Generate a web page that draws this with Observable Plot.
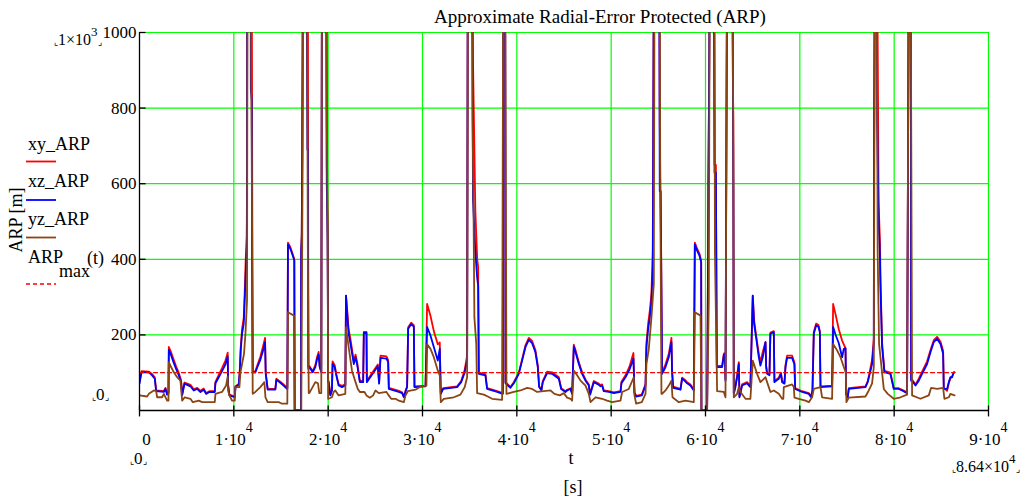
<!DOCTYPE html>
<html><head><meta charset="utf-8">
<script src="https://cdn.jsdelivr.net/npm/d3@7"></script>
<script src="https://cdn.jsdelivr.net/npm/@observablehq/plot@0.6"></script>
<style>
body{margin:0;background:#fff;}
#wrap{position:relative;width:1024px;height:498px;overflow:hidden;font-family:"Liberation Serif","Times New Roman",Times,"DejaVu Serif",serif;}
#wrap svg{position:absolute;left:0;top:0;}
#wrap svg text{font-family:"Liberation Serif","Times New Roman",Times,"DejaVu Serif",serif;}
</style></head><body><div id="wrap"></div>
<script>
// ---- tick definitions ----
const xTicks = [0,10000,20000,30000,40000,50000,60000,70000,80000,90000];
const xTickText = ["0","1·10","2·10","3·10","4·10","5·10","6·10","7·10","8·10","9·10"];
const xTickExp = "4";
const yTicks = [200,400,600,800,1000];
const yGrid = [200,400,600,800,1000];

// ---- series: [t (s), ARP (m)] ----
const xyPoints = [[0,75],[212,104],[990,103],[1340,96],[1620,88],[1765,53],[2580,51],[2750,60],[2930,44],[3070,48],
[3110,168],[3320,156],[3600,136],[3880,117],[4170,99],[4410,80],[4520,42],[4770,74],[5400,68],[5750,56],
[6110,60],[6460,52],[6810,58],[7060,46],[7410,51],[7980,51],[8050,76],[8400,94],[8750,112],[9110,132],
[9350,153],[9390,70],[9530,42],[10100,37],[10170,64],[10520,70],[10630,106],[10730,168],[10870,215],[11050,245],
[11150,310],[11260,400],[11370,460],[11400,640],[11420,1200],[11780,1200],[11800,1200],[11900,1200],[11920,940],[12000,101],
[12280,104],[12500,120],[12810,142],[13100,170],[13310,192],[13380,100],[13590,57],[14400,57],[14510,84],[14830,78],
[15180,71],[15530,63],[15670,60],[15740,444],[15990,432],[16240,414],[16410,400],[16450,0],[17120,0],[17140,425],
[17200,470],[17250,690],[17320,1200],[17700,1200],[17800,1200],[17850,1200],[17900,115],[18000,118],[18360,104],[18640,120],
[18810,140],[18990,155],[19100,118],[19270,104],[19340,1200],[19800,1200],[19850,650],[19940,500],[20000,78],[20050,78],
[20230,42],[20400,55],[20470,130],[20690,120],[20860,97],[21110,69],[21460,65],[21820,69],[21890,304],[22030,262],
[22170,215],[22370,188],[22720,130],[22900,148],[23070,128],[23360,78],[23710,78],[23780,208],[24060,208],[24100,78],
[24660,99],[25260,122],[25400,74],[25550,145],[26180,143],[26360,133],[26430,60],[26960,56],[27490,52],[27840,48],
[28020,37],[28200,52],[28370,64],[28480,220],[28800,232],[29080,226],[29150,64],[30320,66],[30490,282],[30850,250],
[31200,210],[31620,175],[31830,180],[31940,46],[32190,59],[33670,64],[34100,78],[34450,105],[34730,145],[34800,1200],
[35250,1200],[35300,1200],[35350,930],[35600,530],[35800,400],[35900,380],[35970,100],[36670,96],[36850,59],[37910,51],
[38510,46],[38560,1200],[38760,1200],[38800,75],[39320,62],[39680,75],[40210,100],[40560,136],[40920,173],[41270,192],
[41620,184],[41970,160],[42220,120],[42360,65],[42610,55],[42750,78],[43210,103],[43740,101],[44450,88],[44700,59],
[45150,51],[45330,55],[45690,59],[45860,46],[46040,174],[46220,160],[46570,128],[46920,101],[47280,82],[47630,69],
[47770,44],[48160,78],[48620,72],[48870,67],[49040,69],[49220,53],[49750,51],[50280,48],[50990,51],[51090,76],
[51520,93],[51940,116],[52360,152],[52470,48],[52650,39],[53250,42],[53640,70],[53740,180],[53920,230],[54100,265],
[54270,310],[54410,420],[54450,708],[54520,1200],[55100,1200],[55150,770],[55250,500],[55300,420],[55400,101],[55760,122],
[56110,150],[56390,192],[56460,104],[56570,63],[57350,57],[57520,87],[57770,82],[58050,75],[58400,69],[58760,55],
[58870,444],[59110,428],[59360,415],[59540,396],[59570,0],[60170,0],[60280,430],[60300,600],[60390,880],[60450,1200],
[60900,1200],[60960,650],[61100,650],[61200,118],[61760,118],[61940,150],[62040,152],[62120,82],[62290,1200],[62850,1200],
[62900,890],[62950,770],[63000,46],[63170,65],[63350,92],[63530,128],[63600,37],[63880,69],[64410,75],[64760,65],
[65010,304],[65150,240],[65360,200],[65650,150],[65820,128],[66070,155],[66360,181],[66430,118],[66530,100],[66780,96],
[66880,206],[67240,210],[67310,78],[67770,87],[68000,100],[68120,78],[68370,74],[68480,120],[68650,145],[69180,145],
[69430,127],[69500,59],[70240,51],[70950,46],[71200,37],[71340,55],[71480,208],[71730,230],[71970,226],[72120,210],
[72190,64],[73420,66],[73530,282],[73780,255],[74130,215],[74480,185],[74660,175],[74840,165],[74910,44],[75080,37],
[75190,59],[76960,64],[77200,78],[77410,102],[77660,135],[77840,190],[77870,700],[77950,1200],[78150,1200],[78200,1200],
[78350,550],[78500,444],[78540,360],[78720,180],[78970,104],[79070,104],[79600,100],[79960,59],[80490,59],[80840,55],
[81370,48],[81550,1200],[81750,1200],[81800,82],[81900,82],[82260,69],[82610,84],[82960,103],[83490,130],[83850,160],
[84200,186],[84550,195],[84910,182],[85190,158],[85260,60],[85610,52],[85790,72],[85960,85],[86140,90],[86320,101],[86400,101]];

const xzPoints = [[0,71],[212,101],[990,101],[1340,93],[1620,84],[1765,51],[2580,49],[2750,57],[2930,42],[3070,46],
[3110,161],[3320,148],[3600,128],[3880,110],[4170,93],[4410,75],[4520,40],[4770,71],[5400,64],[5750,53],
[6110,57],[6460,49],[6810,55],[7060,44],[7410,49],[7980,49],[8050,72],[8400,88],[8750,104],[9110,122],
[9350,143],[9390,66],[9530,40],[10100,35],[10170,62],[10520,68],[10630,101],[10730,159],[10870,203],[11050,229],
[11150,291],[11260,362],[11370,432],[11400,560],[11420,1200],[11780,1200],[11800,850],[11900,820],[11920,450],[12000,101],
[12280,101],[12500,115],[12810,134],[13100,159],[13310,181],[13380,97],[13590,55],[14400,55],[14510,81],[14830,75],
[15180,68],[15530,60],[15670,57],[15740,439],[15990,428],[16240,410],[16410,397],[16450,0],[17120,0],[17140,420],
[17200,460],[17250,680],[17320,1200],[17700,1200],[17800,690],[17850,690],[17900,110],[18000,115],[18360,101],[18640,115],
[18810,134],[18990,148],[19100,115],[19270,101],[19340,1200],[19800,1200],[19850,600],[19940,450],[20000,75],[20050,75],
[20230,40],[20400,53],[20470,123],[20690,115],[20860,93],[21110,66],[21460,62],[21820,66],[21890,304],[22030,251],
[22170,203],[22370,176],[22720,123],[22900,141],[23070,122],[23360,75],[23710,75],[23780,205],[24060,205],[24100,75],
[24660,95],[25260,117],[25400,71],[25550,139],[26180,137],[26360,128],[26430,57],[26960,53],[27490,49],[27840,46],
[28020,35],[28200,50],[28370,62],[28480,216],[28800,228],[29080,222],[29150,62],[30320,64],[30490,221],[30850,198],
[31200,168],[31620,132],[31830,163],[31940,44],[32190,57],[33670,62],[34100,75],[34450,99],[34730,132],[34800,1200],
[35250,1200],[35300,930],[35350,560],[35600,420],[35800,350],[35900,330],[35970,97],[36670,93],[36850,57],[37910,49],
[38510,44],[38560,1200],[38760,1200],[38800,72],[39320,60],[39680,72],[40210,97],[40560,132],[40920,168],[41270,187],
[41620,178],[41970,154],[42220,115],[42360,62],[42610,53],[42750,75],[43210,99],[43740,97],[44450,84],[44700,57],
[45150,49],[45330,53],[45690,57],[45860,44],[46040,169],[46220,154],[46570,123],[46920,97],[47280,79],[47630,66],
[47770,42],[48160,75],[48620,69],[48870,64],[49040,66],[49220,51],[49750,49],[50280,46],[50990,49],[51090,72],
[51520,88],[51940,108],[52360,137],[52470,46],[52650,37],[53250,40],[53640,66],[53740,168],[53920,216],[54100,247],
[54270,291],[54410,379],[54450,580],[54520,1200],[55100,1200],[55150,580],[55250,580],[55300,400],[55400,97],[55760,115],
[56110,141],[56390,181],[56460,101],[56570,60],[57350,55],[57520,84],[57770,79],[58050,72],[58400,66],[58760,53],
[58870,439],[59110,423],[59360,410],[59540,392],[59570,0],[60170,0],[60280,428],[60300,580],[60390,890],[60450,1200],
[60900,1200],[60960,629],[61100,629],[61200,115],[61760,115],[61940,146],[62040,148],[62120,79],[62290,1200],[62850,1200],
[62900,890],[62950,600],[63000,44],[63170,62],[63350,88],[63530,123],[63600,35],[63880,66],[64410,72],[64760,62],
[65010,304],[65150,229],[65360,194],[65650,141],[65820,119],[66070,141],[66360,181],[66430,115],[66530,97],[66780,93],
[66880,203],[67240,207],[67310,75],[67770,84],[68000,97],[68120,75],[68370,71],[68480,115],[68650,139],[69180,139],
[69430,122],[69500,57],[70240,49],[70950,44],[71200,35],[71340,53],[71480,203],[71730,225],[71970,222],[72120,207],
[72190,62],[73420,64],[73530,221],[73780,201],[74130,178],[74480,141],[74660,163],[74840,165],[74910,42],[75080,35],
[75190,57],[76960,62],[77200,75],[77410,97],[77660,123],[77840,176],[77870,674],[77950,1200],[78150,1200],[78200,760],
[78350,510],[78500,400],[78540,335],[78720,168],[78970,101],[79070,101],[79600,97],[79960,57],[80490,57],[80840,53],
[81370,46],[81550,1200],[81750,1200],[81800,79],[81900,79],[82260,66],[82610,79],[82960,97],[83490,123],[83850,154],
[84200,181],[84550,190],[84910,176],[85190,150],[85260,57],[85610,57],[85790,75],[85960,88],[86140,88],[86320,101],[86400,101]];

const yzPoints = [[0,40],[810,37],[990,44],[1520,53],[1765,51],[1870,35],[2400,35],[2580,44],[2930,26],[3070,26],
[3110,128],[3350,115],[3640,101],[3990,88],[4340,79],[4520,26],[4800,35],[5400,31],[5650,22],[6290,26],
[6640,22],[7980,22],[8050,44],[8750,49],[9180,66],[9350,90],[9390,53],[9530,40],[9810,26],[10100,26],
[10170,62],[10590,62],[10700,101],[10870,123],[11080,150],[11230,203],[11400,291],[11450,1200],[11820,1200],[11850,866],
[11900,700],[11950,420],[12000,44],[12280,49],[12810,62],[13240,75],[13350,35],[13590,22],[14760,22],[15110,18],
[15670,18],[15740,260],[16380,251],[16450,0],[17150,0],[17300,680],[17350,1200],[17750,1200],[17850,400],[17940,46],
[18000,46],[18640,75],[18920,72],[19060,46],[19270,46],[19340,1200],[19800,1200],[19850,780],[19950,450],[20000,31],
[20050,31],[20400,35],[20580,49],[20760,53],[21110,40],[21820,44],[21890,220],[22170,168],[22520,106],[22900,75],
[23140,57],[23360,49],[23850,49],[24060,40],[24420,34],[24770,40],[25020,53],[25370,46],[26180,49],[26360,42],
[26680,31],[27140,31],[27490,26],[28020,22],[28200,40],[28440,51],[29260,55],[29860,64],[30420,66],[30490,175],
[30850,163],[31200,141],[31620,106],[31830,93],[31940,22],[32260,31],[33320,35],[34020,42],[34480,62],[34730,88],
[34820,1200],[35250,1200],[35300,777],[35400,560],[35500,247],[35700,176],[35790,46],[36500,42],[36920,37],[37380,31],
[38440,28],[38560,1200],[38760,1200],[38900,44],[39680,49],[40380,53],[41090,60],[41620,57],[42150,49],[43570,53],
[43990,44],[44550,40],[44980,46],[45330,34],[45690,31],[45860,26],[46040,106],[46390,93],[46750,79],[47280,66],
[47630,44],[47810,22],[48340,35],[49040,31],[49570,26],[50100,22],[50990,26],[51160,49],[51870,57],[52400,88],
[52470,40],[52650,18],[53250,22],[53640,44],[53740,123],[53990,163],[54270,247],[54520,335],[54600,1200],[55150,1200],
[55200,620],[55330,44],[55400,44],[55760,53],[56110,66],[56390,79],[56500,35],[57170,22],[57880,26],[58760,22],
[58870,260],[59470,251],[59570,0],[60170,0],[60350,291],[60450,1200],[60950,1200],[61000,418],[61230,51],[61940,49],
[62120,35],[62290,1200],[62850,1200],[62950,700],[63000,35],[63350,44],[63530,62],[63700,49],[64240,31],[64760,31],
[65010,132],[65470,97],[65820,75],[66360,88],[66530,75],[66880,49],[67240,53],[67770,44],[68120,31],[68250,31],
[68300,62],[69180,69],[69360,62],[69430,34],[69890,31],[70600,26],[70950,22],[71300,35],[71480,57],[72190,62],
[72360,35],[73420,31],[73530,176],[73950,159],[74310,141],[74660,115],[74870,101],[74940,22],[75190,34],[76960,37],
[77310,53],[77660,72],[77840,115],[77900,640],[77950,1200],[78150,1200],[78250,420],[78400,176],[78900,57],[79320,44],
[79960,31],[80670,35],[81370,42],[81550,1200],[81750,1200],[81900,40],[82780,31],[83670,40],[83920,60],[84550,57],
[85190,60],[85330,31],[85790,35],[85960,44],[86400,40]];

const arpMaxPoints = [[0,100],[86400,100]];

const colors = {xy:"#ff0000", xz:"#0000ff", yz:"#8b4513", max:"#ff0000", grid:"#00ff00"};
const serif = "\"Liberation Serif\", \"Times New Roman\", Times, \"DejaVu Serif\", serif";

const chart = Plot.plot({
  width: 1024, height: 498,
  marginLeft: 139, marginRight: 36, marginTop: 32, marginBottom: 88,
  style: {fontFamily: serif, fontSize: "17px", background: "transparent", color: "#000"},
  x: {domain: [0, 90000], axis: null},
  y: {domain: [0, 1000], axis: null},
  marks: [
    Plot.ruleX(xTicks.slice(1), {stroke: colors.grid, strokeWidth: 1.2, strokeOpacity: 1}),
    Plot.ruleY(yGrid, {stroke: colors.grid, strokeWidth: 1.2, strokeOpacity: 1}),
    Plot.line(xyPoints, {x: d => d[0], y: d => d[1], stroke: colors.xy, strokeWidth: 1.8, clip: true}),
    Plot.line(xzPoints, {x: d => d[0], y: d => d[1], stroke: colors.xz, strokeWidth: 1.8, clip: true}),
    Plot.line(arpMaxPoints, {x: d => d[0], y: d => d[1], stroke: colors.max, strokeWidth: 1.3, strokeDasharray: "4,3"}),
    Plot.line(yzPoints, {x: d => d[0], y: d => d[1], stroke: colors.yz, strokeWidth: 1.8, clip: true}),
    Plot.ruleY([0], {stroke: "#000", strokeWidth: 1.3}),
    Plot.ruleX([0], {stroke: "#000", strokeWidth: 1.3}),
    Plot.ruleX(xTicks, {y1: -17, y2: 12, stroke: "#000", strokeWidth: 1.3}),
    Plot.ruleY(yTicks, {x1: 0, x2: 700, stroke: "#000", strokeWidth: 1.3}),
    Plot.text(xTicks.slice(0,1), {x: d => d, y: 0, dx: 7, dy: 29, text: (d, i) => xTickText[0], fontSize: 17}),
    Plot.text(xTicks.slice(1), {x: d => d, y: 0, dx: 12, dy: 29, textAnchor: "end", text: (d, i) => xTickText[i + 1], fontSize: 17}),
    Plot.text(xTicks.slice(1), {x: d => d, y: 0, dx: 12, dy: 17, textAnchor: "start", text: () => xTickExp, fontSize: 14}),
    Plot.text(yTicks, {x: 0, y: d => d, dx: -3, textAnchor: "end", text: d => String(d), fontSize: 17})
  ]
});
document.getElementById("wrap").appendChild(chart);

// ---- overlay: title, axis titles, legend, limit placeholders ----
const ov = d3.select("#wrap").append("svg").attr("width", 1024).attr("height", 498)
  .style("pointer-events", "none");
function txt(s, x, y, size, anchor) {
  return ov.append("text").attr("x", x).attr("y", y).attr("font-size", size)
    .attr("text-anchor", anchor || "start").attr("fill", "#000").text(s);
}
txt("Approximate Radial-Error Protected (ARP)", 600, 23, 19, "middle");
txt("t", 571, 464, 18, "middle");
txt("[s]", 573, 493, 18, "middle");
ov.append("text").attr("transform", "translate(22,220) rotate(-90)").attr("text-anchor", "middle")
  .attr("font-size", 18).attr("fill", "#000").text("ARP [m]");

const legendItems = [
  {label: "xy_ARP", color: colors.xy, ty: 150, ly: 161.5},
  {label: "xz_ARP", color: colors.xz, ty: 187, ly: 200},
  {label: "yz_ARP", color: colors.yz, ty: 225, ly: 237.5},
];
legendItems.forEach(it => {
  txt(it.label, 28, it.ty, 18);
  ov.append("line").attr("x1", 26).attr("x2", 56).attr("y1", it.ly).attr("y2", it.ly)
    .attr("stroke", it.color).attr("stroke-width", 1.8);
});
txt("ARP", 28, 263, 18);
txt("max", 59, 277, 18);
txt("(t)", 87, 264, 18);
ov.append("line").attr("x1", 26).attr("x2", 56).attr("y1", 284).attr("y2", 284)
  .attr("stroke", colors.max).attr("stroke-width", 1.3).attr("stroke-dasharray", "4,3");

// limit placeholders
function bracketed(parts, x, y) {
  const t = ov.append("text").attr("x", x).attr("y", y).attr("fill", "#000");
  parts.forEach(p => {
    const s = t.append("tspan").attr("font-size", p.size).text(p.s);
    if (p.dy) s.attr("dy", p.dy);
  });
  return t;
}
bracketed([{s:"⌞", size:9},{s:"1×10", size:16},{s:"3", size:13, dy:-9},{s:"⌟", size:9, dy:9}], 54, 45);
bracketed([{s:"⌞", size:9},{s:"0", size:17},{s:"⌟", size:9}], 92, 400);
bracketed([{s:"⌞", size:9},{s:"0", size:17},{s:"⌟", size:9}], 130, 464);
bracketed([{s:"⌞", size:9},{s:"8.64×10", size:16},{s:"4", size:13, dy:-9},{s:"⌟", size:9, dy:9}], 952, 472);
</script>
</body></html>
